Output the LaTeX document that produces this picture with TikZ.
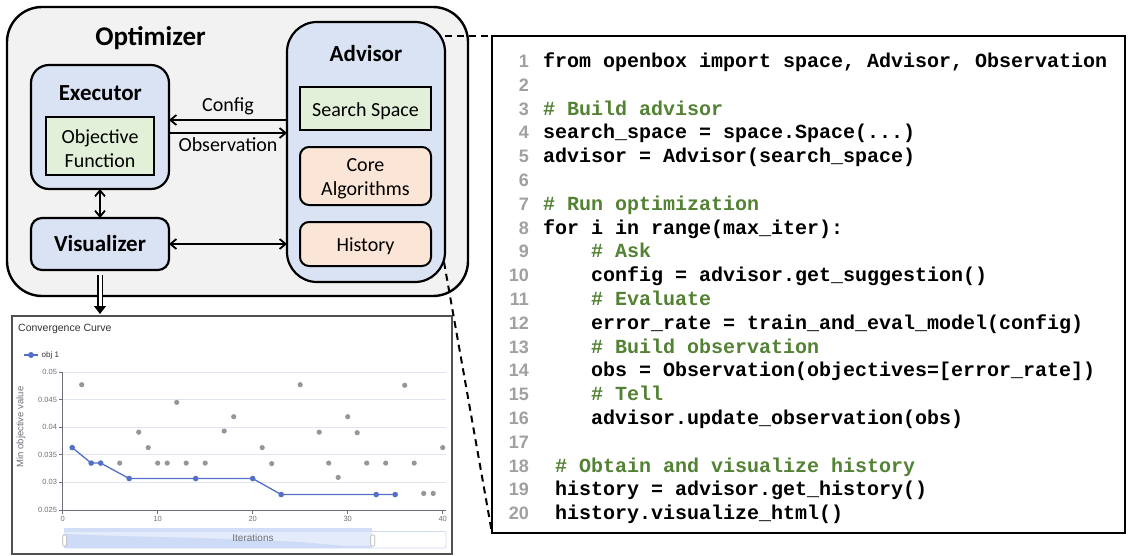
\documentclass[tikz,border=0pt]{standalone}
\usepackage{fontspec}
\setmainfont{Carlito}
\newfontfamily\codefont{Liberation Mono}
\newfontfamily\chartfont{Liberation Sans}
\usetikzlibrary{arrows.meta}
\definecolor{optfill}{RGB}{242,242,242}
\definecolor{bluefill}{RGB}{218,227,243}
\definecolor{greenfill}{RGB}{226,240,217}
\definecolor{orangefill}{RGB}{251,229,214}
\definecolor{cgreen}{RGB}{84,130,53}
\definecolor{lnogray}{RGB}{160,160,160}
\definecolor{cblue}{RGB}{84,112,198}
\definecolor{cgray}{RGB}{150,150,150}
\definecolor{axisgray}{RGB}{110,112,121}
\definecolor{gridc}{RGB}{224,230,241}
\definecolor{charttitle}{RGB}{51,51,51}
\definecolor{chartborder}{RGB}{80,80,80}
\definecolor{selfill}{RGB}{228,235,250}
\definecolor{selbar}{RGB}{210,222,247}
\definecolor{shadowfill}{RGB}{206,219,247}
\definecolor{sliderborder}{RGB}{210,219,238}
\begin{document}
\begin{tikzpicture}[x=1pt,y=-1pt,
  box/.style={draw, line width=2.2pt, inner sep=0pt, outer sep=0pt},
  bluebox/.style={box, fill=bluefill},
  greenbox/.style={box, line width=2pt, fill=greenfill, font=\fontsize{20}{24}\selectfont, align=center},
  orangebox/.style={box, line width=2pt, fill=orangefill, rounded corners=9pt, font=\fontsize{20}{24}\selectfont, align=center},
  ttl/.style={anchor=base, inner sep=0pt, font=\fontsize{23}{28}\selectfont\bfseries},
  lbl/.style={anchor=base, inner sep=0pt, font=\fontsize{20}{24}\selectfont},
  mlbl/.style={inner sep=0pt, align=center, font=\fontsize{20}{24}\selectfont},
  arr/.style={line width=1.8pt, -{Straight Barb[length=6pt,width=10pt]}},
  darr/.style={line width=1.8pt, {Straight Barb[length=6pt,width=10pt]}-{Straight Barb[length=6pt,width=10pt]}},
  dashline/.style={line width=2pt, dash pattern=on 7pt off 5pt},
  code/.style={anchor=base west, inner sep=0pt, font=\codefont\bfseries\fontsize{20}{24}\selectfont},
  cmt/.style={code, text=cgreen},
  lno/.style={anchor=base east, inner sep=0pt, text=lnogray, font=\chartfont\bfseries\fontsize{18}{22}\selectfont},
  ticklbl/.style={inner sep=0pt, text=axisgray, font=\chartfont\fontsize{7.5}{9}\selectfont},
  gridline/.style={draw=gridc, line width=0.8pt},
  axisline/.style={draw=axisgray, line width=0.8pt}
]
\useasboundingbox (0,0) rectangle (1128,555);

% ---------- Optimizer ----------
\node[box, line width=2.4pt, fill=optfill, rounded corners=35pt, minimum width=461pt, minimum height=289pt] (opt) at (237.5,151.5) {};
\node[ttl, font=\fontsize{27}{32}\selectfont\bfseries] (optt) at (150.5,45) {Optimizer};

\node[bluebox, rounded corners=18pt, minimum width=138pt, minimum height=124pt] (exec) at (100,127) {};
\node[ttl] (exect) at (100.3,100) {Executor};
\node[greenbox, minimum width=108pt, minimum height=58pt] (obj) at (100,146) {};
\node[mlbl] (objt) at (100,149) {Objective\\Function};

\node[bluebox, rounded corners=11pt, minimum width=138pt, minimum height=52pt, font=\fontsize{23}{28}\selectfont\bfseries, text height=16pt, text depth=0.5pt] (vis) at (100,244) {Visualizer};

\node[bluebox, rounded corners=30pt, minimum width=158pt, minimum height=260pt] (adv) at (366,152) {};
\node[ttl] (advt) at (366,61.7) {Advisor};
\node[greenbox, minimum width=131pt, minimum height=43pt, text height=15pt, text depth=0pt] (ss) at (365.5,108.5) {Search Space};
\node[orangebox, minimum width=131pt, minimum height=58pt] (core) at (365.5,176) {};
\node[mlbl] (coret) at (365.5,179) {Core\\Algorithms};
\node[orangebox, minimum width=131pt, minimum height=44pt, text height=15pt, text depth=0pt] (hist) at (365.5,244) {History};

\draw[arr] (adv.west |- 0,120) -- (exec.east |- 0,120) node[lbl, pos=0.5, yshift=4pt, anchor=south] (cfg) {Config};
\draw[arr] (exec.east |- 0,133) -- (adv.west |- 0,133) node[lbl, pos=0.5, yshift=-4pt, anchor=north] (obs) {Observation};
\draw[darr] (exec.south) -- (vis.north);
\draw[darr] (vis.east) -- (vis.east -| adv.west);

% ---------- Chart ----------
\node[draw=chartborder, line width=1.5pt, fill=white, minimum width=440pt, minimum height=238pt, inner sep=0pt] (chart) at (232,435) {};
\coordinate (imptip) at (100,314);
\draw[double, double distance=3pt, line width=1.3pt, -{Triangle[length=8pt,width=12pt]}, shorten <=5pt] (vis.south) -- (imptip);

\node[anchor=base west, inner sep=0pt, text=charttitle, font=\chartfont\fontsize{10.5}{12}\selectfont] (ctitle) at (18,331) {Convergence Curve};
\draw[cblue, line width=1.2pt] (24,355) -- (38,355);
\fill[cblue] (31,355) circle (3pt);
\node[anchor=west, inner sep=0pt, text=charttitle, font=\chartfont\fontsize{8}{10}\selectfont] (leg) at (41.5,355) {obj 1};
\node[rotate=90, inner sep=0pt, text=axisgray, font=\chartfont\fontsize{9.5}{11}\selectfont] (ylab) at (21,427) {Min objective value};

\begin{scope}[shift={(62.7,372)}, x=9.5pt, y=5.52pt]
  \foreach \g in {0,-5,-10,-15,-20} \draw[gridline] (0,\g) -- (40.3,\g);
  \draw[axisline] (0,0) -- (0,-25) -- (40.3,-25);
  \foreach \g/\t in {0/0.05,-5/0.045,-10/0.04,-15/0.035,-20/0.03,-25/0.025} {
    \draw[axisline] (0,\g) -- ++(-4pt,0);
    \node[ticklbl, anchor=east] at ([xshift=-5.5pt]0,\g) {\t};
  }
  \foreach \i in {0,10,20,30,40} {
    \draw[axisline] (\i,-25) -- ++(0,-4pt);
    \node[ticklbl, anchor=north] at ([yshift=-6pt]\i,-25) {\i};
  }
  \foreach \i/\v in {2/47.7,6/33.5,8/39.1,9/36.3,10/33.5,11/33.5,12/44.5,13/33.5,15/33.5,17/39.3,18/41.9,21/36.3,22/33.4,25/47.7,27/39.1,28/33.5,29/30.9,30/41.9,31/39.0,32/33.5,34/33.5,36/47.6,37/33.5,38/28.0,39/28.0,40/36.3}
    \fill[cgray] (\i,{\v-50}) circle (2.6pt);
  \draw[cblue, line width=1.3pt] (1,-13.7) -- (3,-16.5) -- (4,-16.5) -- (7,-19.3) -- (14,-19.3) -- (20,-19.3) -- (23,-22.2) -- (33,-22.2) -- (35,-22.2);
  \foreach \i/\v in {1/-13.7,3/-16.5,4/-16.5,7/-19.3,14/-19.3,20/-19.3,23/-22.2,33/-22.2,35/-22.2}
    \fill[cblue] (\i,\v) circle (2.8pt);
\end{scope}

% slider
\draw[sliderborder, fill=white, rounded corners=2pt, line width=0.8pt] (64,531.5) rectangle (446,548);
\fill[selfill] (64,527.7) rectangle (372,548);
\fill[selbar] (64,527.7) rectangle (372,531.7);
\fill[shadowfill] (64,534) -- (120,536) -- (200,538) -- (260,540) -- (300,542) -- (340,545.5) -- (372,546) -- (372,548) -- (64,548) -- cycle;
\draw[draw=gray!60, fill=white, rounded corners=1pt, line width=0.6pt] (62.7,535) rectangle (66.7,546);
\draw[draw=gray!60, fill=white, rounded corners=1pt, line width=0.6pt] (370.7,535) rectangle (374.7,546);
\node[inner sep=0pt, text=axisgray, font=\chartfont\fontsize{10}{12}\selectfont] (iter) at (253,537.5) {Iterations};

% ---------- Code ----------
\node[box, line width=2.2pt, fill=white, minimum width=633pt, minimum height=497pt] (code) at (808.5,284.5) {};
\foreach \k in {1,...,20} \node[lno] (n\k) at (529,{67.5+(\k-1)*23.8}) {\k};
\node[code] (l1) at (543,67.5) {from openbox import space, Advisor, Observation};
\node[cmt] (l3) at (543,115.1) {\# Build advisor};
\node[code] (l4) at (543,138.9) {search\_space = space.Space(...)};
\node[code] (l5) at (543,162.7) {advisor = Advisor(search\_space)};
\node[cmt] (l7) at (543,210.3) {\# Run optimization};
\node[code] (l8) at (543,234.1) {for i in range(max\_iter):};
\node[cmt] (l9) at (591,257.9) {\# Ask};
\node[code] (l10) at (591,281.7) {config = advisor.get\_suggestion()};
\node[cmt] (l11) at (591,305.5) {\# Evaluate};
\node[code] (l12) at (591,329.3) {error\_rate = train\_and\_eval\_model(config)};
\node[cmt] (l13) at (591,353.1) {\# Build observation};
\node[code] (l14) at (591,376.9) {obs = Observation(objectives=[error\_rate])};
\node[cmt] (l15) at (591,400.7) {\# Tell};
\node[code] (l16) at (591,424.5) {advisor.update\_observation(obs)};
\node[cmt] (l18) at (555,472.1) {\# Obtain and visualize history};
\node[code] (l19) at (555,495.9) {history = advisor.get\_history()};
\node[code] (l20) at (555,519.7) {history.visualize\_html()};

% ---------- dashed connectors ----------
\coordinate (dA) at (445,36);
\coordinate (dB) at (444,262);
\draw[dashline] (dA) -- (code.north west);
\draw[dashline] (dB) -- (code.south west);
\end{tikzpicture}
\end{document}
